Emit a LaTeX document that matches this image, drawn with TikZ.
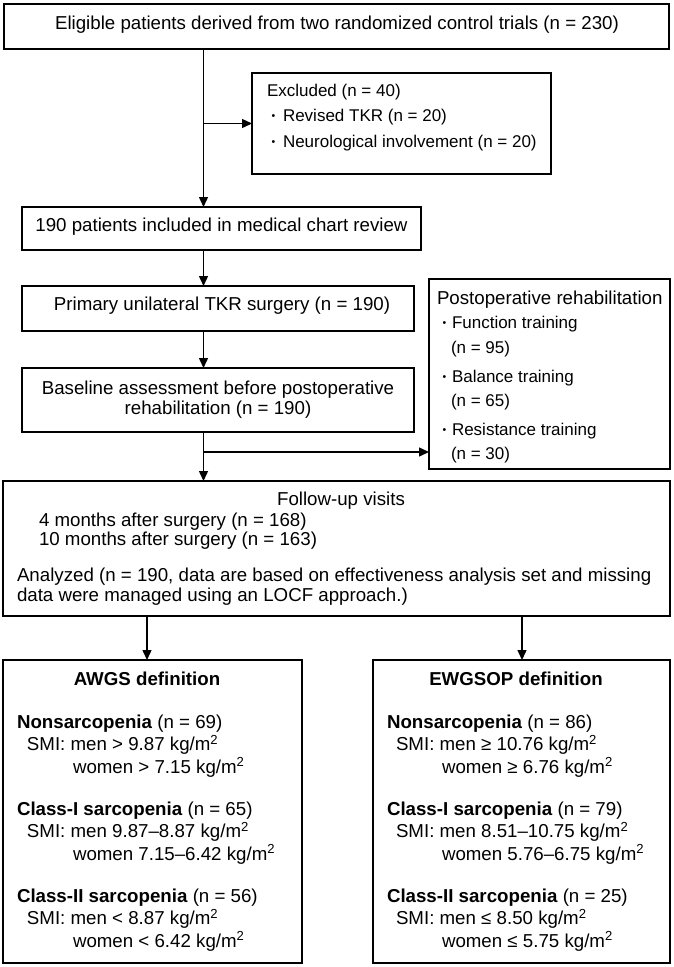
\documentclass[tikz,border=0pt]{standalone}
\usepackage{fontspec}
\setmainfont{Liberation Sans}
\usetikzlibrary{arrows.meta}
\newcommand{\bul}[1]{\makebox[#1][l]{\raisebox{2pt}{\fontsize{10.5}{10.5}\selectfont •}}}
\newcommand{\sqm}{kg/m\textsuperscript{2}}
\begin{document}
\begin{tikzpicture}[x=1pt,y=-1pt,
  font=\fontsize{18.7}{22}\selectfont,
  box/.style={draw, line width=1.5pt, inner sep=0pt, outer sep=0pt},
  txt/.style={inner sep=0pt, outer sep=0pt, anchor=base west},
  ctxt/.style={inner sep=0pt, outer sep=0pt, anchor=base},
  small/.style={font=\fontsize{17}{20}\selectfont},
  arr/.style={line width=1.4pt, -{Triangle[length=10pt,width=9pt]}},
  ln/.style={line width=1.4pt}]
\useasboundingbox (0,0) rectangle (674,967);

% boxes
\node[box, minimum width=665pt, minimum height=45pt] (elig) at (336.5,26.5) {};
\node[box, minimum width=299pt, minimum height=101pt] (excl) at (401.5,123.5) {};
\node[box, minimum width=399pt, minimum height=43pt] (chart) at (221.5,228.5) {};
\node[box, minimum width=392pt, minimum height=45pt] (tkr) at (218,308.5) {};
\node[box, minimum width=392pt, minimum height=64pt] (base) at (218,400) {};
\node[box, minimum width=241pt, minimum height=190pt] (rehab) at (549.5,374) {};
\node[box, minimum width=667pt, minimum height=135pt] (follow) at (336.5,548.5) {};
\node[box, minimum width=299pt, minimum height=303pt] (awgs) at (152.5,811.5) {};
\node[box, minimum width=297pt, minimum height=303pt] (ewg) at (521.5,811.5) {};

% texts
\node[ctxt] (eligT) at (337,29.5) {Eligible patients derived from two randomized control trials (n = 230)};

\node[txt, small] (exclA) at (267,96) {Excluded (n = 40)};
\node[txt, small] (exclB) at (271.5,121.5) {\bul{11.5pt}Revised TKR (n = 20)};
\node[txt, small] (exclC) at (271.5,147.5) {\bul{11.5pt}Neurological involvement (n = 20)};

\node[ctxt] (chartT) at (221.5,231.5) {190 patients included in medical chart review};
\node[ctxt] (tkrT) at (222,310.5) {Primary unilateral TKR surgery (n = 190)};
\node[ctxt] (baseA) at (218,394) {Baseline assessment before postoperative};
\node[ctxt] (baseB) at (218,414.3) {rehabilitation (n = 190)};

\node[txt] (rehA) at (437,304.5) {Postoperative rehabilitation};
\node[txt, small] (rehB) at (442.5,328.5) {\bul{9.5pt}Function training};
\node[txt, small] (rehC) at (451,353.5) {(n = 95)};
\node[txt, small] (rehD) at (442.5,382.5) {\bul{9.5pt}Balance training};
\node[txt, small] (rehE) at (451,406.5) {(n = 65)};
\node[txt, small] (rehF) at (442.5,435.5) {\bul{9.5pt}Resistance training};
\node[txt, small] (rehG) at (451,459.5) {(n = 30)};

\node[ctxt] (folA) at (341,505.5) {Follow-up visits};
\node[txt] (folB) at (39,526) {4 months after surgery (n = 168)};
\node[txt] (folC) at (39,545) {10 months after surgery (n = 163)};
\node[txt] (folD) at (17,581) {Analyzed (n = 190, data are based on effectiveness analysis set and missing};
\node[txt] (folE) at (17,601) {data were managed using an LOCF approach.)};

\node[ctxt] (awT) at (147,685.5) {\bfseries AWGS definition};
\node[txt] (aw1) at (17,728) {\textbf{Nonsarcopenia} (n = 69)};
\node[txt] (aw2) at (27,750.5) {SMI: men > 9.87 \sqm};
\node[txt] (aw3) at (73,773) {women > 7.15 \sqm};
\node[txt] (aw4) at (17,815) {\textbf{Class-I sarcopenia} (n = 65)};
\node[txt] (aw5) at (27,837.5) {SMI: men 9.87–8.87 \sqm};
\node[txt] (aw6) at (73,860) {women 7.15–6.42 \sqm};
\node[txt] (aw7) at (17,902) {\textbf{Class-II sarcopenia} (n = 56)};
\node[txt] (aw8) at (27,924.5) {SMI: men < 8.87 \sqm};
\node[txt] (aw9) at (73,947) {women < 6.42 \sqm};

\node[ctxt] (ewT) at (516,685.5) {\bfseries EWGSOP definition};
\node[txt] (ew1) at (387,728) {\textbf{Nonsarcopenia} (n = 86)};
\node[txt] (ew2) at (396,750.5) {SMI: men ≥ 10.76 \sqm};
\node[txt] (ew3) at (442,773) {women ≥ 6.76 \sqm};
\node[txt] (ew4) at (387,815) {\textbf{Class-I sarcopenia} (n = 79)};
\node[txt] (ew5) at (396,837.5) {SMI: men 8.51–10.75 \sqm};
\node[txt] (ew6) at (442,860) {women 5.76–6.75 \sqm};
\node[txt] (ew7) at (387,902) {\textbf{Class-II sarcopenia} (n = 25)};
\node[txt] (ew8) at (396,924.5) {SMI: men ≤ 8.50 \sqm};
\node[txt] (ew9) at (442,947) {women ≤ 5.75 \sqm};

% connectors
\coordinate (spine) at (203.5,0);
\coordinate (split) at (0,452);
\coordinate (leftdrop) at (147,0);
\coordinate (rightdrop) at (522,0);
\draw[arr] (elig.south -| spine) -- (chart.north -| spine);
\draw[arr] (spine |- excl.west) -- (excl.west);
\draw[arr] (chart.south -| spine) -- (tkr.north -| spine);
\draw[arr] (tkr.south -| spine) -- (base.north -| spine);
\draw[arr] (base.south -| spine) -- (follow.north -| spine);
\draw[arr] (spine |- split) -- (rehab.west |- split);
\draw[arr] (follow.south -| leftdrop) -- (awgs.north -| leftdrop);
\draw[arr] (follow.south -| rightdrop) -- (ewg.north -| rightdrop);
\end{tikzpicture}
\end{document}
